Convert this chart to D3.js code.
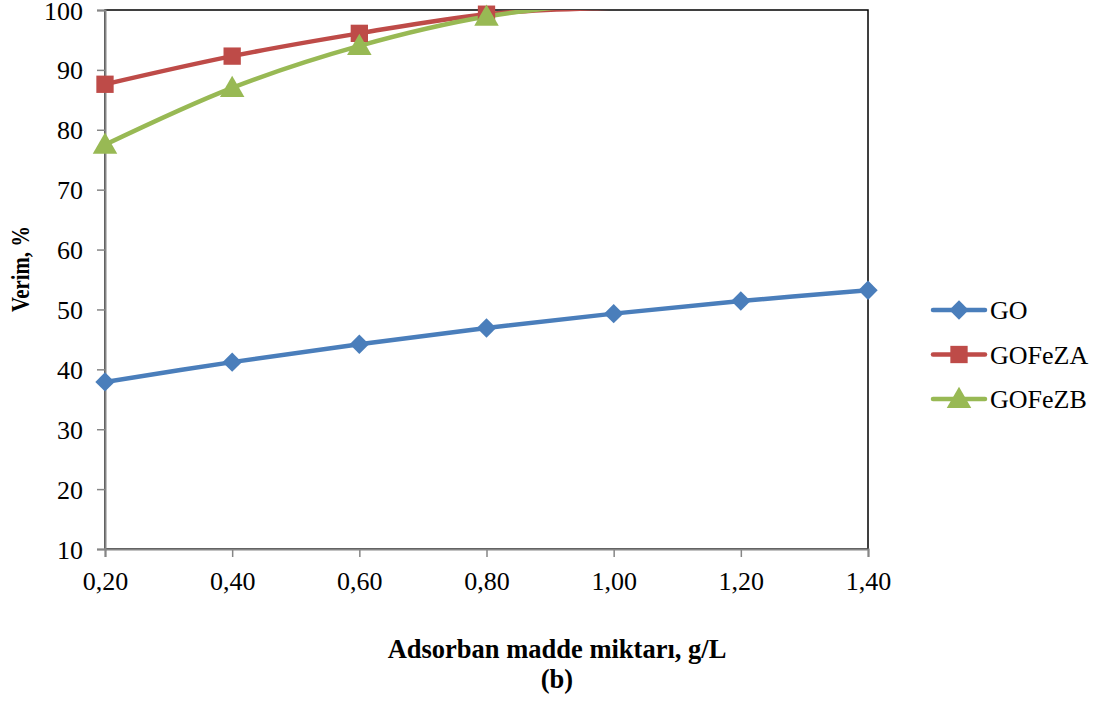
<!DOCTYPE html>
<html>
<head>
<meta charset="utf-8">
<script src="https://cdn.jsdelivr.net/npm/d3@7"></script>
<style>
  body { margin: 0; background: #fff; }
  svg { display: block; }
  text { font-family: "Liberation Serif", "Times New Roman", serif; fill: #000; }
</style>
</head>
<body>
<svg id="chart" width="1109" height="702"></svg>
<script>
// Adsorbent dose (g/L)
const doses = [0.20, 0.40, 0.60, 0.80, 1.00, 1.20, 1.40];
// Removal efficiency (%) per adsorbent
const goValues = [37.9, 41.2, 44.2, 46.9, 49.3, 51.4, 53.2];
const goFeZAValues = [87.6, 92.3, 96.1, 99.3, 100.4, 100.8, 101.0];
const goFeZBValues = [77.5, 87.0, 94.0, 98.9, 101.2, 101.8, 102.0];
const seriesNames = ["GO", "GOFeZA", "GOFeZB"];
const yTicks = [10, 20, 30, 40, 50, 60, 70, 80, 90, 100];
const xTickLabels = ["0,20", "0,40", "0,60", "0,80", "1,00", "1,20", "1,40"];

const colors = { GO: "#4A7EBB", GOFeZA: "#BE4B48", GOFeZB: "#98B954" };
const shapes = { GO: "diamond", GOFeZA: "square", GOFeZB: "triangle" };
const seriesValues = { GO: goValues, GOFeZA: goFeZAValues, GOFeZB: goFeZBValues };

const svg = d3.select("#chart");
const plot = { left: 105, right: 868, top: 10, bottom: 549 };
const fontSize = "26px";

const x = d3.scaleLinear().domain([0.2, 1.4]).range([plot.left, plot.right]);
const y = d3.scaleLinear().domain([10, 100]).range([plot.bottom, plot.top]);

svg.append("defs").append("clipPath").attr("id", "plotClip")
  .append("rect")
  .attr("x", plot.left).attr("y", plot.top)
  .attr("width", plot.right - plot.left).attr("height", plot.bottom - plot.top);

// Plot area border
svg.append("rect")
  .attr("x", plot.left).attr("y", plot.top)
  .attr("width", plot.right - plot.left).attr("height", plot.bottom - plot.top)
  .attr("fill", "none").attr("stroke", "#000").attr("stroke-width", 1.5);

// Axes
const yAxis = svg.append("g")
  .attr("transform", `translate(${plot.left},0)`)
  .call(d3.axisLeft(y).tickValues(yTicks).tickSize(8).tickPadding(14).tickFormat(d3.format("d")));
const xAxis = svg.append("g")
  .attr("transform", `translate(0,${plot.bottom})`)
  .call(d3.axisBottom(x).tickValues(doses).tickSize(8)
    .tickFormat((d, i) => xTickLabels[i]));

[yAxis, xAxis].forEach(g => {
  g.select(".domain").attr("stroke", "#868686").attr("stroke-width", 2);
  g.selectAll(".tick line").attr("stroke", "#868686").attr("stroke-width", 1.5);
  g.selectAll(".tick text").style("font-family", '"Liberation Serif", serif')
    .style("font-size", fontSize).attr("fill", "#000");
});
yAxis.selectAll(".tick text").attr("dy", "0.35em");
xAxis.selectAll(".tick text").attr("y", 41).attr("dy", 0);

// Marker symbols
function symbolFor(name, size) {
  const type = shapes[name] === "diamond" ? d3.symbolDiamond2
    : shapes[name] === "square" ? d3.symbolSquare : d3.symbolTriangle;
  return d3.symbol().type(type).size(size)();
}
const markerSize = { diamond: 240, square: 300, triangle: 260 };

const line = d3.line()
  .x(d => x(d[0])).y(d => y(d[1]))
  .curve(d3.curveCatmullRom.alpha(0));

const series = seriesNames.map(name => ({
  name,
  points: doses.map((d, i) => [d, seriesValues[name][i]])
}));

const lines = svg.append("g").attr("clip-path", "url(#plotClip)");
series.forEach(s => {
  lines.append("path")
    .datum(s.points)
    .attr("fill", "none")
    .attr("stroke", colors[s.name])
    .attr("stroke-width", 4.5)
    .attr("stroke-linejoin", "round")
    .attr("d", line);
});

// Markers above the axis maximum are not drawn
series.forEach(s => {
  svg.append("g").selectAll("path")
    .data(s.points.filter(p => p[1] <= 100))
    .join("path")
    .attr("transform", d => `translate(${x(d[0])},${y(d[1]) + (shapes[s.name] === "triangle" ? 2 : 0)})`)
    .attr("d", symbolFor(s.name, markerSize[shapes[s.name]]))
    .attr("fill", colors[s.name]);
});

// Legend
const legend = svg.append("g");
seriesNames.forEach((name, i) => {
  const ly = 310 + i * 44.5;
  legend.append("line")
    .attr("x1", 933).attr("x2", 985).attr("y1", ly).attr("y2", ly)
    .attr("stroke", colors[name]).attr("stroke-width", 4.5).attr("stroke-linecap", "round");
  legend.append("path")
    .attr("transform", `translate(959,${ly + (shapes[name] === "triangle" ? 2 : 0)})`)
    .attr("d", symbolFor(name, markerSize[shapes[name]]))
    .attr("fill", colors[name]);
  legend.append("text")
    .attr("x", 990).attr("y", ly).attr("dy", "0.35em")
    .style("font-size", fontSize)
    .text(name);
});

// Axis titles
svg.append("text")
  .attr("transform", "translate(29,269) rotate(-90) scale(0.8,1)")
  .attr("text-anchor", "middle")
  .style("font-size", "26px").style("font-weight", "bold")
  .text("Verim, %");

svg.append("text")
  .attr("x", 557).attr("y", 658)
  .attr("text-anchor", "middle")
  .style("font-size", "26.5px").style("font-weight", "bold")
  .text("Adsorban madde miktarı, g/L");

svg.append("text")
  .attr("x", 557).attr("y", 688)
  .attr("text-anchor", "middle")
  .style("font-size", "26.5px").style("font-weight", "bold")
  .text("(b)");
</script>
</body>
</html>
